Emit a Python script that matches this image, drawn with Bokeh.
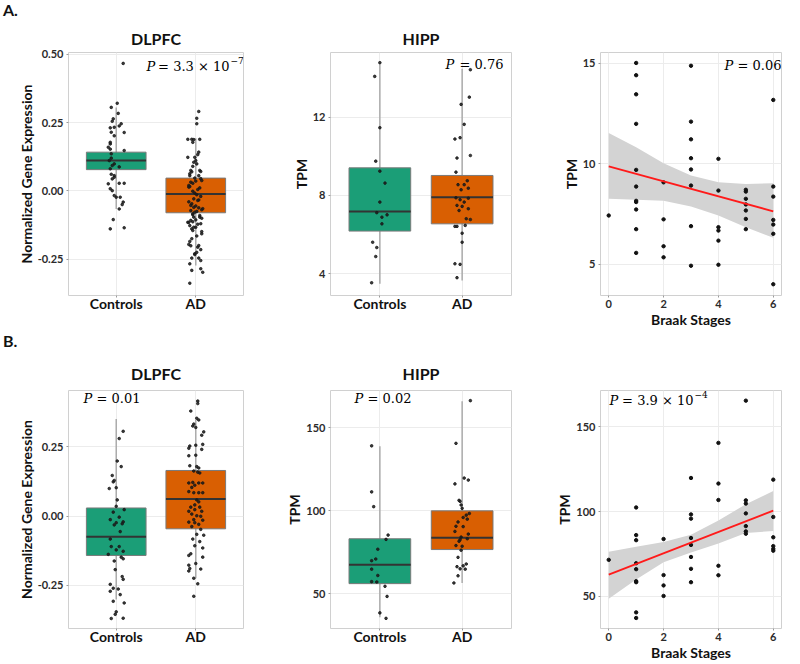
from bokeh.plotting import figure
from bokeh.models import Label, FixedTicker, PrintfTickFormatter, Range1d, Div
from bokeh.layouts import row, column
from bokeh.embed import file_html
from bokeh.resources import INLINE

# ---------------- data ----------------
GROUPS = ["Controls", "AD"]
GROUP_FILL = ["#1b9e77", "#d95f02"]
JIT_UNIT = 0.0125  # horizontal jitter readings were taken in pixels (80 px per group)

# Panel A - DLPFC : (value, jitter px)
A1_CTRL = [(0.467, 7), (0.321, 1), (0.306, -5), (0.284, 2), (0.264, -3), (0.255, -4), (0.246, 5),
           (0.233, -2), (0.238, 3), (0.231, -6), (0.214, 8), (0.215, -5), (0.202, -2), (0.178, -6),
           (0.172, -6), (0.160, -8), (0.153, -6), (0.148, 8), (0.136, -5), (0.120, -5), (0.111, -7),
           (0.099, -2), (0.093, -4), (0.088, 3), (0.081, -6), (0.061, -5), (0.056, -2), (0.050, -2),
           (0.044, -4), (0.026, -8), (0.028, 3), (0.028, 8), (0.008, -6), (0.001, -4), (-0.017, -2),
           (-0.023, 0), (-0.023, 4), (-0.041, 7), (-0.050, 6), (-0.066, 3), (-0.105, -3),
           (-0.139, -6), (-0.135, 8)]
A1_AD = [(0.291, 3), (0.266, 1), (0.246, 1), (0.189, -8), (0.189, -4), (0.188, -2), (0.189, 4),
         (0.178, -3), (0.142, 3), (0.133, 2), (0.123, -8), (0.123, -1), (0.111, 0), (0.105, -2),
         (0.099, 1), (0.075, -5), (0.070, -4), (0.071, 5), (0.056, -6), (0.056, 3), (0.047, -1),
         (0.036, 0), (0.032, -5), (0.028, -3), (0.016, -6), (0.014, -7), (0.011, 4), (-0.001, -3),
         (-0.008, -1), (-0.014, 1), (-0.020, 5), (-0.029, -2), (-0.033, 3), (-0.047, -4),
         (-0.055, 0), (-0.060, -2), (-0.062, 3), (-0.069, 6), (-0.072, -5), (-0.075, 1),
         (-0.087, -3), (-0.090, 4), (-0.096, -2), (-0.108, -5), (-0.115, -8), (-0.113, -3),
         (-0.106, 0), (-0.120, 5), (-0.127, -6), (-0.133, -2), (-0.139, -4), (-0.149, 6),
         (-0.196, -7), (-0.201, -5), (-0.206, 2), (-0.225, 1), (-0.233, -1), (-0.246, -4),
         (-0.246, 3), (-0.291, -4), (-0.285, 5), (-0.298, 7), (-0.338, -6), (0.063, -6),
         (0.075, 4), (0.038, 6), (0.020, -7), (-0.035, 2), (-0.053, -5), (-0.065, 7), (-0.084, -3),
         (-0.096, 4), (-0.115, -7), (-0.133, 0), (-0.157, 6), (-0.175, -4), (-0.200, 3),
         (-0.230, -1), (-0.255, 5), (-0.267, -6), (0.090, -3), (0.045, 5), (0.005, 2),
         (-0.040, -7), (-0.078, -1), (-0.100, 6), (-0.122, 2), (-0.145, -3), (-0.165, 1),
         (-0.185, -6), (-0.215, 5)]
A1_Q1 = [0.078, -0.080]
A1_MED = [0.111, -0.011]
A1_Q3 = [0.142, 0.047]
A1_WLO = [-0.066, -0.273]
A1_WHI = [0.306, 0.193]
A1_YTICKS = [-0.25, 0.0, 0.25, 0.50]

# Panel A - HIPP
A2_CTRL = [(14.78, 0), (14.08, -5), (11.46, 0), (9.75, -4), (9.24, 0), (8.63, 5), (7.66, 0),
           (7.12, -3), (7.01, 7), (6.89, 2), (6.55, 2), (5.61, -7), (5.34, -3), (4.88, -4),
           (3.54, -8)]
A2_AD = [(14.42, 8), (13.02, 7), (12.65, -1), (11.63, 2), (10.88, -7), (10.95, -2), (9.91, -5),
         (10.04, 8), (9.19, -6), (8.75, 5), (8.55, -4), (8.55, 2), (8.29, -1), (8.37, 6),
         (7.88, -6), (7.78, -2), (7.86, 6), (7.66, 2), (7.49, -5), (7.44, 0), (7.23, -3),
         (7.32, 6), (6.81, 4), (6.77, 8), (6.42, -7), (6.42, -5), (6.47, 3), (6.07, 0), (5.61, 0),
         (4.51, -7), (4.48, -2), (3.80, -5)]
A2_Q1 = [6.18, 6.55]
A2_MED = [7.18, 7.91]
A2_Q3 = [9.41, 9.02]
A2_WLO = [3.49, 3.66]
A2_WHI = [14.70, 14.47]
A2_YTICKS = [4, 8, 12]

# Panel A - TPM vs Braak stage
A3_TPM_BY_STAGE = [[7.43],
                   [15.02, 14.41, 13.46, 11.99, 9.70, 8.87, 8.16, 8.10, 7.73, 6.75, 5.57],
                   [9.08, 7.24, 5.90, 5.35],
                   [14.88, 12.10, 11.22, 10.28, 9.72, 8.92, 6.90, 4.93],
                   [10.25, 8.67, 6.85, 6.68, 6.18, 4.98],
                   [8.71, 8.62, 8.26, 7.98, 7.68, 7.26, 6.75],
                   [13.18, 8.87, 8.37, 7.21, 6.98, 6.52, 4.01]]
A3_FIT_X = [0, 6]
A3_FIT_Y = [9.88, 7.64]
A3_BAND_UP = [11.54, 10.83, 10.03, 9.42, 9.08, 9.00, 9.03]
A3_BAND_LO = [8.26, 8.21, 8.17, 7.88, 7.43, 6.85, 6.32]
A3_YTICKS = [5, 10, 15]

# Panel B - DLPFC
B1_CTRL = [(0.305, 7), (0.279, 3), (0.198, 1), (0.178, 5), (0.146, -4), (0.128, -2), (0.123, -3),
           (0.102, 0), (0.099, -7), (0.058, 1), (0.035, 0), (0.023, 8), (0.014, -3), (-0.013, -6),
           (-0.004, 3), (-0.024, 0), (-0.028, 6), (-0.032, -2), (-0.021, 7), (-0.056, 4),
           (-0.083, -6), (-0.110, -5), (-0.110, 3), (-0.122, 0), (-0.127, 7), (-0.138, -8),
           (-0.148, 5), (-0.154, 7), (-0.162, -2), (-0.193, -1), (-0.218, 6), (-0.228, 7),
           (-0.246, -6), (-0.260, -3), (-0.263, 2), (-0.271, -6), (-0.283, 4), (-0.313, 8),
           (-0.307, -3), (-0.345, 0), (-0.354, -1), (-0.369, -5), (-0.368, 7)]
B1_AD = [(0.414, 2), (0.405, 2), (0.378, -5), (0.352, 1), (0.346, 3), (0.331, -2), (0.324, -3),
         (0.319, 0), (0.303, 8), (0.291, 6), (0.255, 0), (0.258, 7), (0.252, -6), (0.244, -7),
         (0.240, 6), (0.219, 0), (0.217, -7), (0.181, -6), (0.178, 1), (0.173, 3), (0.162, -2),
         (0.158, 2), (0.155, 4), (0.119, -7), (0.121, -3), (0.119, 3), (0.119, 7), (0.111, -1),
         (0.103, -4), (0.088, -7), (0.084, -2), (0.084, 3), (0.084, 7), (0.058, 1), (0.051, 3),
         (0.040, -1), (0.032, -5), (0.032, 4), (0.023, -1), (0.017, -7), (0.017, 6), (0.007, -4),
         (0.001, 1), (-0.001, 5), (-0.013, -2), (-0.015, 7), (-0.022, -7), (-0.024, -1),
         (-0.030, 3), (-0.038, -4), (-0.048, 5), (-0.066, 1), (-0.069, 8), (-0.083, -3),
         (-0.092, 4), (-0.107, -1), (-0.115, 7), (-0.136, -5), (-0.142, -7), (-0.148, 7),
         (-0.171, 0), (-0.177, -7), (-0.189, -6), (-0.198, -7), (-0.191, 5), (-0.224, -2),
         (-0.244, 2), (-0.289, -2)]
B1_Q1 = [-0.142, -0.046]
B1_MED = [-0.075, 0.061]
B1_Q3 = [0.029, 0.164]
B1_WLO = [-0.301, -0.224]
B1_WHI = [0.349, 0.346]
B1_YTICKS = [-0.25, 0.0, 0.25]

# Panel B - HIPP
B2_CTRL = [(139.1, -8), (111.4, -8), (102.5, -6), (85.4, 8), (82.8, 6), (76.9, -2), (71.0, -4),
           (70.0, -8), (64.9, -8), (61.1, -2), (57.4, -8), (57.2, -3), (54.6, 5), (48.5, 7),
           (38.6, 0), (35.3, 6)]
B2_AD = [(166.3, 8), (140.6, -6), (119.7, 2), (118.5, 6), (116.2, -7), (106.3, -3), (105.7, -2),
         (103.5, -1), (101.5, 0), (98.4, 7), (97.4, 4), (96.0, 1), (95.0, 5), (93.3, -4),
         (90.7, -6), (90.5, 1), (86.0, 6), (87.6, -7), (84.2, -1), (83.2, 5), (82.6, -2),
         (81.7, -3), (78.7, 0), (79.1, -6), (76.3, -1), (72.0, -4), (68.0, 4), (66.4, -5),
         (66.9, 1), (65.1, -2), (64.9, 3), (60.9, -4), (56.6, -8)]
B2_Q1 = [56.2, 76.7]
B2_MED = [67.5, 83.8]
B2_Q3 = [83.2, 100.0]
B2_WLO = [35.9, 56.6]
B2_WHI = [138.8, 166.0]
B2_YTICKS = [50, 100, 150]

# Panel B - TPM vs Braak stage
B3_TPM_BY_STAGE = [[71.5],
                   [102.4, 86.1, 83.1, 69.5, 66.0, 58.9, 58.3, 40.5, 37.2],
                   [83.8, 62.5, 56.4, 50.2],
                   [119.8, 98.3, 95.8, 84.4, 80.3, 73.2, 66.2, 58.3],
                   [140.5, 116.5, 106.8, 68.0, 62.4],
                   [165.4, 106.6, 104.7, 98.9, 91.4, 88.3, 86.9],
                   [118.8, 96.8, 84.8, 79.6, 78.0, 76.9]]
B3_FIT_X = [0, 6]
B3_FIT_Y = [62.8, 100.5]
B3_BAND_UP = [76.3, 79.2, 82.1, 86.3, 94.7, 104.3, 112.1]
B3_BAND_LO = [48.6, 59.9, 70.1, 75.9, 81.1, 87.3, 88.5]
B3_YTICKS = [50, 100, 150]

BRAAK_STAGES = [0, 1, 2, 3, 4, 5, 6]
BRAAK_TICKS = [0, 2, 4, 6]

# ---------------- geometry (page px) ----------------
COL_FRAME_LEFT = [68, 330, 600]
COL_FRAME_W = [175, 181, 181]
COL_BORDER_L = [68, 52, 52]
COL_BORDER_R = [35, 37, 15]
ROW_FRAME_TOP = [52, 390]
ROW_FRAME_H = [243, 238]
ROW_BORDER_T = [32, 39]
ROW_BORDER_B = [36, 35]
ROW_TITLE_STANDOFF = [10, 16]
COL_TITLE_OFFSET = [-23, 0, 0]
LETTER_H = 20

SANS = "Lato"
SERIF = "DejaVu Serif"


def make_fig(col, r, x_range, y_range, title):
    p = figure(frame_width=COL_FRAME_W[col], frame_height=ROW_FRAME_H[r],
               x_range=x_range, y_range=y_range,
               min_border_left=COL_BORDER_L[col], min_border_right=COL_BORDER_R[col],
               min_border_top=ROW_BORDER_T[r], min_border_bottom=ROW_BORDER_B[r],
               output_backend="svg", toolbar_location=None)
    p.title.text = title
    p.title.align = "center"
    p.title.offset = COL_TITLE_OFFSET[col]
    p.title.standoff = ROW_TITLE_STANDOFF[r]
    p.title.text_font = SANS
    p.title.text_font_size = "16px"
    p.title.text_font_style = "bold"
    p.title.text_color = "#111111"
    p.outline_line_color = "#d0d0d0"
    p.outline_line_width = 1
    p.background_fill_color = "white"
    p.border_fill_color = "white"
    p.xgrid.grid_line_color = "#ececec"
    p.ygrid.grid_line_color = "#ececec"
    for ax in (p.xaxis[0], p.yaxis[0]):
        ax.axis_line_color = None
        ax.major_tick_line_color = "#9a9a9a"
        ax.major_tick_out = 2
        ax.major_tick_in = 0
        ax.minor_tick_line_color = None
        ax.major_label_text_font = SANS
        ax.major_label_text_font_style = "bold"
        ax.major_label_text_font_size = "11px"
        ax.major_label_text_color = "#2b2b2b"
        ax.axis_label_text_font = SANS
        ax.axis_label_text_font_style = "bold"
        ax.axis_label_text_font_size = "14px"
        ax.axis_label_text_color = "#111111"
        ax.major_label_standoff = 3
        ax.axis_label_standoff = 0
    return p


def add_text(p, col, r, wx, wy, text, font=SERIF, size="13px", style="normal", align="left"):
    fl = COL_FRAME_LEFT[col]
    fb = ROW_FRAME_TOP[r] + ROW_FRAME_H[r]
    p.add_layout(Label(x=wx - fl, y=fb - wy, x_units="screen", y_units="screen", text=text,
                       text_font=font, text_font_size=size, text_font_style=style,
                       text_align=align, text_baseline="alphabetic", text_color="#000000"))


def add_p(p, col, r, wx_p, wx_end, wy, rest, sup=None):
    add_text(p, col, r, wx_p, wy, "P", style="italic", align="left")
    add_text(p, col, r, wx_end, wy, rest, align="right")
    if sup:
        add_text(p, col, r, wx_end + 1, wy - 6, sup, size="9px", align="left")


def box_panel(col, r, title, y_rng, yticks, yfmt, ylabel, q1, med, q3, wlo, whi, ctrl, ad):
    p = make_fig(col, r, Range1d(0.4, 2.6), Range1d(*y_rng), title)
    xs = [1, 2]
    half = 0.375
    p.segment(x0=xs, y0=wlo, x1=xs, y1=whi, line_color="#ababab", line_width=1.5)
    p.quad(left=[x - half for x in xs], right=[x + half for x in xs], bottom=q1, top=q3,
           fill_color=GROUP_FILL, line_color="#7a7a7a", line_width=1)
    p.segment(x0=[x - half for x in xs], y0=med, x1=[x + half for x in xs], y1=med,
              line_color="#333333", line_width=2)
    for gi, pts in enumerate([ctrl, ad]):
        p.scatter(x=[xs[gi] + j * JIT_UNIT for v, j in pts], y=[v for v, j in pts],
                  size=2.6, color="#1a1a1a", alpha=0.85)
    p.xaxis.ticker = FixedTicker(ticks=xs)
    p.xaxis.major_label_overrides = {x: g for x, g in zip(xs, GROUPS)}
    p.xaxis.major_label_text_font_size = "14px"
    p.xaxis.major_label_text_color = "#111111"
    p.xaxis.major_label_standoff = -3
    p.yaxis.ticker = FixedTicker(ticks=yticks)
    p.yaxis.formatter = PrintfTickFormatter(format=yfmt)
    p.yaxis.axis_label = ylabel
    return p


def scatter_panel(col, r, y_rng, yticks, by_stage, fit_x, fit_y, band_up, band_lo):
    p = make_fig(col, r, Range1d(-0.3, 6.3), Range1d(*y_rng), " ")
    p.varea(x=BRAAK_STAGES, y1=band_lo, y2=band_up, fill_color="#d3d3d3", fill_alpha=1.0)
    xs, ys = [], []
    for s, vals in zip(BRAAK_STAGES, by_stage):
        xs += [s] * len(vals)
        ys += vals
    p.scatter(x=xs, y=ys, size=3.4, color="#111111")
    p.line(x=fit_x, y=fit_y, line_color="#ff1a1a", line_width=1.8)
    p.xaxis.ticker = FixedTicker(ticks=BRAAK_TICKS)
    p.xaxis.axis_label = "Braak Stages"
    p.xaxis.axis_label_standoff = 0
    p.xaxis.major_label_standoff = 2
    p.yaxis.ticker = FixedTicker(ticks=yticks)
    p.yaxis.formatter = PrintfTickFormatter(format="%d")
    p.yaxis.axis_label = "TPM"
    return p


a1 = box_panel(0, 0, "DLPFC", (-0.383, 0.507), A1_YTICKS, "%.2f", "Normalized Gene Expression",
               A1_Q1, A1_MED, A1_Q3, A1_WLO, A1_WHI, A1_CTRL, A1_AD)
a2 = box_panel(1, 0, "HIPP", (2.89, 15.30), A2_YTICKS, "%d", "TPM",
               A2_Q1, A2_MED, A2_Q3, A2_WLO, A2_WHI, A2_CTRL, A2_AD)
a3 = scatter_panel(2, 0, (3.45, 15.54), A3_YTICKS, A3_TPM_BY_STAGE, A3_FIT_X, A3_FIT_Y,
                   A3_BAND_UP, A3_BAND_LO)
b1 = box_panel(0, 1, "DLPFC", (-0.405, 0.452), B1_YTICKS, "%.2f", "Normalized Gene Expression",
               B1_Q1, B1_MED, B1_Q3, B1_WLO, B1_WHI, B1_CTRL, B1_AD)
b2 = box_panel(1, 1, "HIPP", (29.2, 172.4), B2_YTICKS, "%d", "TPM",
               B2_Q1, B2_MED, B2_Q3, B2_WLO, B2_WHI, B2_CTRL, B2_AD)
b3 = scatter_panel(2, 1, (31.0, 171.4), B3_YTICKS, B3_TPM_BY_STAGE, B3_FIT_X, B3_FIT_Y,
                   B3_BAND_UP, B3_BAND_LO)

# p-values
add_p(a1, 0, 0, 146, 229, 66, "= 3.3 \u00d7 10", "\u22127")
add_p(a2, 1, 0, 445, 503, 64, "= 0.76")
add_p(a3, 2, 0, 724, 781, 65, "= 0.06")
add_p(b1, 0, 1, 83, 140, 398, "= 0.01")
add_p(b2, 1, 1, 354, 411, 398, "= 0.02")
add_p(b3, 2, 1, 609, 693, 400, "= 3.9 \u00d7 10", "\u22124")


def letter_div(txt):
    html = ('<div style="padding-left:3px;font-family:Lato;font-weight:bold;'
            'font-size:16px;line-height:20px;color:#111111">%s</div>' % txt)
    return Div(text=html, width=60, height=LETTER_H, margin=(0, 0, 0, 0))


layout = column(letter_div("A."), row(a1, a2, a3), letter_div("B."), row(b1, b2, b3))
open("out.html", "w").write(file_html(layout, INLINE))
